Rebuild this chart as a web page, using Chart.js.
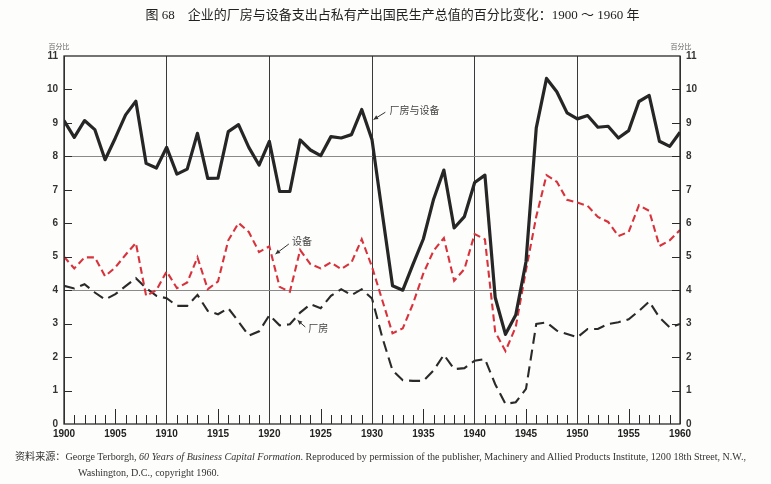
<!DOCTYPE html>
<html>
<head>
<meta charset="utf-8">
<script src="https://cdn.jsdelivr.net/npm/chart.js@4/dist/chart.umd.min.js"></script>
<style>
body{margin:0;background:#fdfdfb;}
#wrap{position:relative;width:771px;height:484px;overflow:hidden;}
#title{position:absolute;left:7px;width:771px;top:4px;text-align:center;font:13px "Liberation Serif","Noto Sans CJK SC",serif;color:#222;white-space:nowrap;}
#note{position:absolute;left:15px;top:449px;font:10.1px "Liberation Serif","Noto Sans CJK SC",serif;color:#333;line-height:16px;white-space:nowrap;}
#note .l2{padding-left:63px;}
canvas{position:absolute;left:0;top:0;}
</style>
</head>
<body>
<div id="wrap">
<canvas id="chart" width="771" height="484"></canvas>
<div id="title">图 68　企业的厂房与设备支出占私有产出国民生产总值的百分比变化：1900 ～ 1960 年</div>
<div id="note">资料来源：George Terborgh, <i>60 Years of Business Capital Formation</i>. Reproduced by permission of the publisher, Machinery and Allied Products Institute, 1200 18th Street, N.W.,<div class="l2">Washington, D.C., copyright 1960.</div></div>
</div>
<script>
// years and the three series (percent of private GNP)
const years = [1900,1901,1902,1903,1904,1905,1906,1907,1908,1909,
  1910,1911,1912,1913,1914,1915,1916,1917,1918,1919,
  1920,1921,1922,1923,1924,1925,1926,1927,1928,1929,
  1930,1931,1932,1933,1934,1935,1936,1937,1938,1939,
  1940,1941,1942,1943,1944,1945,1946,1947,1948,1949,
  1950,1951,1952,1953,1954,1955,1956,1957,1958,1959,1960];

const total = [9.07,8.57,9.07,8.8,7.9,8.55,9.24,9.65,7.79,7.65,
  8.27,7.47,7.62,8.69,7.34,7.35,8.74,8.95,8.27,7.74,
  8.45,6.95,6.95,8.49,8.19,8.02,8.59,8.55,8.65,9.4,
  8.5,6.3,4.13,4.0,4.78,5.53,6.72,7.59,5.86,6.2,
  7.22,7.44,3.78,2.68,3.26,4.85,8.85,10.33,9.93,9.3,
  9.12,9.22,8.87,8.9,8.55,8.77,9.64,9.82,8.45,8.3,8.72];

const equipment = [5.0,4.65,4.98,4.98,4.42,4.68,5.06,5.41,3.83,4.0,
  4.56,4.06,4.23,4.98,4.03,4.26,5.49,6.01,5.74,5.14,
  5.31,4.1,3.95,5.2,4.78,4.65,4.83,4.63,4.83,5.52,
  4.7,3.7,2.71,2.86,3.6,4.5,5.18,5.56,4.28,4.63,
  5.68,5.52,2.75,2.18,2.9,4.6,6.2,7.44,7.24,6.7,
  6.62,6.52,6.19,6.04,5.62,5.74,6.54,6.37,5.32,5.49,5.8];

const plant = [4.13,4.05,4.18,3.93,3.72,3.88,4.12,4.36,4.06,3.83,
  3.76,3.53,3.53,3.86,3.38,3.28,3.46,3.06,2.64,2.77,
  3.25,2.95,2.98,3.33,3.58,3.46,3.83,4.03,3.85,4.03,
  3.75,2.59,1.6,1.31,1.29,1.29,1.6,2.07,1.64,1.67,
  1.89,1.94,1.19,0.6,0.65,1.05,2.99,3.04,2.79,2.69,
  2.59,2.84,2.84,2.99,3.04,3.13,3.38,3.66,3.18,2.89,2.99];

const xTickLabels = ['1900','1905','1910','1915','1920','1925','1930','1935','1940','1945','1950','1955','1960'];
const yTicks = [0,1,2,3,4,5,6,7,8,9,10,11];

const pts = vals => vals.map((v,i)=>({x:years[i], y:v}));

// labels with arrows, in data units: text pos, arrow start, arrow tip
const notes = [
  {text:'厂房与设备', at:[1931.7,9.39], from:[1931.3,9.32], to:[1930.15,9.1]},
  {text:'设备', at:[1922.2,5.46], from:[1921.9,5.38], to:[1920.6,5.08]},
  {text:'厂房', at:[1923.8,2.85], from:[1923.5,2.9], to:[1922.75,3.1]}
];

const decor = {
  id:'decor',
  afterDatasetsDraw(chart){
    const {ctx, chartArea:a, scales:{x,y}} = chart;
    ctx.save();
    ctx.strokeStyle='#2b2b2b';
    ctx.lineWidth=1.3;
    ctx.strokeRect(a.left,a.top,a.right-a.left,a.bottom-a.top);
    // inward tick marks
    ctx.lineWidth=1;
    ctx.beginPath();
    x.ticks.forEach(t=>{
      if(t.value%10===0) return;
      const px = Math.round(x.getPixelForValue(t.value))+0.5;
      const len = t.value%5===0 ? 15 : 9;
      ctx.moveTo(px,a.bottom); ctx.lineTo(px,a.bottom-len);
    });
    y.ticks.forEach(t=>{
      if(t.value===0||t.value===11) return;
      const py = Math.round(y.getPixelForValue(t.value))+0.5;
      ctx.moveTo(a.left,py); ctx.lineTo(a.left+8,py);
      ctx.moveTo(a.right-8,py); ctx.lineTo(a.right,py);
    });
    ctx.stroke();
    // unit labels
    ctx.fillStyle='#666';
    ctx.font='7px "Noto Sans CJK SC"';
    ctx.textAlign='center';
    ctx.textBaseline='middle';
    ctx.fillText('百分比', a.left-5, a.top-10);
    ctx.fillText('百分比', a.right+1, a.top-10);
    // annotations
    ctx.font='10px "Noto Sans CJK SC"';
    ctx.textAlign='left';
    ctx.fillStyle='#444';
    ctx.strokeStyle='#333';
    notes.forEach(n=>{
      ctx.fillText(n.text, x.getPixelForValue(n.at[0]), y.getPixelForValue(n.at[1]));
      const x1=x.getPixelForValue(n.from[0]), y1=y.getPixelForValue(n.from[1]);
      const x2=x.getPixelForValue(n.to[0]), y2=y.getPixelForValue(n.to[1]);
      const ang=Math.atan2(y2-y1,x2-x1);
      ctx.beginPath(); ctx.moveTo(x1,y1); ctx.lineTo(x2,y2); ctx.stroke();
      ctx.beginPath();
      ctx.moveTo(x2,y2);
      ctx.lineTo(x2-5*Math.cos(ang-0.45), y2-5*Math.sin(ang-0.45));
      ctx.lineTo(x2-5*Math.cos(ang+0.45), y2-5*Math.sin(ang+0.45));
      ctx.closePath(); ctx.fillStyle='#333'; ctx.fill(); ctx.fillStyle='#444';
    });
    ctx.restore();
  }
};

new Chart(document.getElementById('chart'), {
  type:'line',
  data:{datasets:[
    {label:'厂房与设备', data:pts(total), borderColor:'#262626', borderWidth:3.2, borderJoinStyle:'round'},
    {label:'设备', data:pts(equipment), borderColor:'#d8333d', borderWidth:2.1, borderDash:[7,4]},
    {label:'厂房', data:pts(plant), borderColor:'#2a2a2a', borderWidth:2.1, borderDash:[11,6]}
  ]},
  options:{
    responsive:false, animation:false,
    elements:{point:{radius:0}, line:{tension:0, fill:false}},
    layout:{padding:{top:56, left:0, right:0, bottom:0}},
    plugins:{legend:{display:false}, title:{display:false}, tooltip:{enabled:false}},
    scales:{
      x:{type:'linear', min:1900, max:1960,
        afterFit:s=>{s.height=60;},
        ticks:{stepSize:1, autoSkip:false, maxRotation:0, padding:4, color:'#222',
          font:{family:'Liberation Sans', size:10, weight:'bold'},
          callback:v=>xTickLabels.includes(String(v)) ? String(v) : ''},
        grid:{drawTicks:false, lineWidth:1,
          color:c=>(c.tick && c.tick.value%10===0) ? '#3a3a3a' : 'rgba(0,0,0,0)'},
        border:{display:false}},
      y:{position:'left', min:0, max:11,
        afterFit:s=>{s.width=64;},
        afterBuildTicks:s=>{s.ticks=yTicks.map(v=>({value:v}));},
        ticks:{padding:6, color:'#333', font:{family:'Liberation Sans', size:10, weight:'bold'}},
        grid:{drawTicks:false, lineWidth:1,
          color:c=>(c.tick && (c.tick.value===4||c.tick.value===8)) ? '#8a8a8a' : 'rgba(0,0,0,0)'},
        border:{display:false}},
      y2:{position:'right', min:0, max:11,
        afterFit:s=>{s.width=91;},
        afterBuildTicks:s=>{s.ticks=yTicks.map(v=>({value:v}));},
        ticks:{padding:6, color:'#333', font:{family:'Liberation Sans', size:10, weight:'bold'}},
        grid:{display:false, drawTicks:false},
        border:{display:false}}
    }
  },
  plugins:[decor]
});
</script>
</body>
</html>
